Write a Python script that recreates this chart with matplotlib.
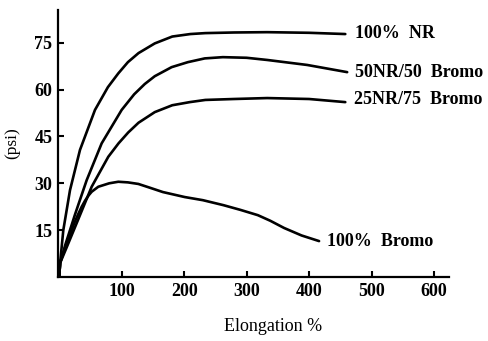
import matplotlib.pyplot as plt

# stress-strain curves
nr_x = [0, 1.5, 6.6, 17.3, 33.3, 57.3, 78, 94.6, 110, 127, 153, 181, 210, 234, 280, 333, 400, 458]
nr_y = [0, 4.5, 15, 27.8, 40.7, 53.5, 60.8, 65.2, 68.8, 71.7, 74.8, 77, 77.8, 78.1, 78.3, 78.4, 78.2, 77.8]

nr50_x = [0, 1.5, 9.3, 25.3, 44, 68, 100, 120, 137, 153, 180, 206, 233, 262, 300, 333, 397, 461]
nr50_y = [0, 4.5, 10, 20, 31, 42.8, 53.5, 58.5, 61.8, 64.3, 67.2, 68.8, 70, 70.4, 70.2, 69.5, 67.9, 65.6]

nr25_x = [0, 1.5, 12, 30.6, 52, 78.6, 95, 110.6, 127, 153, 181, 209, 234, 280, 333, 400, 458]
nr25_y = [0, 4.5, 9.5, 18.5, 28.9, 38.5, 42.8, 46.3, 49.4, 52.8, 55, 56, 56.7, 57, 57.3, 57, 56]

bromo_x = [0, 1.5, 9, 17.3, 24, 30.6, 36, 41.3, 47, 52, 62.6, 80, 94.6, 110, 126.7, 145, 166, 201,
           230, 263, 290, 318, 338, 360, 388, 416]
bromo_y = [0, 4.5, 9, 13.5, 17.2, 20.2, 22.5, 24.4, 26.1, 27.3, 28.9, 30, 30.5, 30.3, 29.8, 28.6, 27.2, 25.6,
           24.6, 23, 21.5, 19.8, 18, 15.7, 13.3, 11.5]

labels = ['100%  NR', '50NR/50  Bromo', '25NR/75  Bromo', '100%  Bromo']
label_pos = [(473, 78.1), (473, 65.6), (472, 56.7), (429, 11.5)]

x_ticks = [100, 200, 300, 400, 500, 600]
y_ticks = [15, 30, 45, 60, 75]

plt.rcParams['font.family'] = ['Liberation Serif', 'DejaVu Serif']
plt.rcParams['font.weight'] = 'bold'

fig = plt.figure(figsize=(4.88, 3.41), dpi=100)
ax = fig.add_axes([58 / 488, 64 / 341, 391 / 488, 267 / 341])

for xs, ys in [(nr_x, nr_y), (nr50_x, nr50_y), (nr25_x, nr25_y), (bromo_x, bromo_y)]:
    ax.plot(xs, ys, color='black', lw=1.9, solid_capstyle='round', solid_joinstyle='round')

for text, (tx, ty) in zip(labels, label_pos):
    ax.text(tx, ty, text, fontsize=13, va='center', ha='left', clip_on=False)

ax.set_xlim(-1.9, 624)
ax.set_ylim(0, 85.5)
ax.set_xticks(x_ticks)
ax.set_yticks(y_ticks)
ax.tick_params(direction='in', length=4, width=1.5, labelsize=13, pad=4)
for s in ['top', 'right']:
    ax.spines[s].set_visible(False)
for s in ['left', 'bottom']:
    ax.spines[s].set_linewidth(1.6)

ax.set_xlabel('Elongation %', fontsize=13, va='center')
ax.xaxis.set_label_coords(0.55, -0.187)
ax.set_ylabel('(psi)', fontsize=12.5, labelpad=10)

fig.savefig('out.png', dpi=100)
